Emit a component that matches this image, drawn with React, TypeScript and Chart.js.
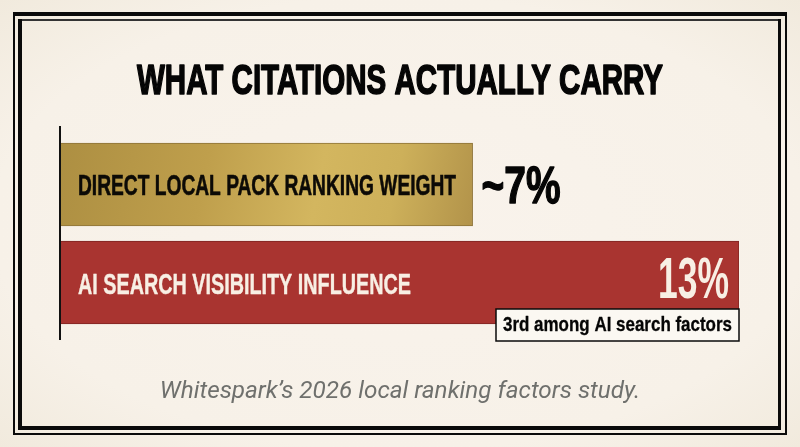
import { useEffect, useRef } from "react"
import { Chart, registerables, type Plugin } from "chart.js"

Chart.register(...registerables)

const categories = ["DIRECT LOCAL PACK RANKING WEIGHT", "AI SEARCH VISIBILITY INFLUENCE"]
// bar lengths as measured on the picture (the first bar is drawn longer than its "~7%" label)
const barLengths = [7.9, 13]
const valueLabels = ["~7%", "13%"]
const chartTitle = "WHAT CITATIONS ACTUALLY CARRY"
const noteText = "3rd among AI search factors"
const sourceText = "Whitespark\u2019s 2026 local ranking factors study."

const CONDENSED = '"Liberation Sans Narrow", "Liberation Sans", sans-serif'

// draws condensed text squeezed to a known width, since Oswald isn't installed
// weight = extra outline so the narrow bold gets closer to Oswald's heavy strokes
function fitText(
  ctx: CanvasRenderingContext2D,
  text: string,
  x: number,
  baseline: number,
  width: number,
  font: string,
  color: string,
  weight = 0
) {
  ctx.save()
  ctx.font = font
  ctx.fillStyle = color
  ctx.strokeStyle = color
  ctx.lineJoin = "round"
  ctx.textAlign = "left"
  ctx.textBaseline = "alphabetic"
  const natural = ctx.measureText(text).width
  ctx.translate(x, baseline)
  ctx.scale(width / natural, 1)
  if (weight > 0) {
    ctx.lineWidth = weight
    ctx.strokeText(text, 0, 0)
  }
  ctx.fillText(text, 0, 0)
  ctx.restore()
}

const slideText: Plugin<"bar"> = {
  id: "slideText",
  afterDatasetsDraw(chart) {
    const { ctx, chartArea } = chart
    const meta = chart.getDatasetMeta(0)
    const y0 = meta.data[0].y
    const y1 = meta.data[1].y
    const end0 = meta.data[0].x
    const end1 = meta.data[1].x

    // axis line runs a bit past the chart area
    ctx.save()
    ctx.strokeStyle = "#111111"
    ctx.lineWidth = 2
    ctx.beginPath()
    ctx.moveTo(chartArea.left, chartArea.top - 9.5)
    ctx.lineTo(chartArea.left, chartArea.bottom + 8.5)
    ctx.stroke()
    ctx.restore()

    fitText(ctx, chartTitle, 137, 94, 526, `bold 43px ${CONDENSED}`, "#050505", 1.6)
    fitText(ctx, categories[0], 78, y0 + 10.5, 378, `bold 30px ${CONDENSED}`, "#0c0a06", 0.6)
    fitText(ctx, categories[1], 78, y1 + 11, 333, `bold 30px ${CONDENSED}`, "#f8efe4", 0.4)
    fitText(ctx, valueLabels[0], end0 + 9, y0 + 18, 79, `bold 52px ${CONDENSED}`, "#050505", 1.4)
    fitText(ctx, valueLabels[1], end1 - 81, y1 + 15.5, 71, `bold 58px ${CONDENSED}`, "#f8efe4")

    // callout box under the red bar's right end
    ctx.save()
    ctx.fillStyle = "#fbf8f2"
    ctx.strokeStyle = "#0a0a0a"
    ctx.lineWidth = 1.5
    ctx.fillRect(496, 309, 243, 32)
    ctx.strokeRect(496, 309, 243, 32)
    ctx.restore()
    fitText(ctx, noteText, 503, 331, 229, `bold 21px ${CONDENSED}`, "#050505", 0.3)

    ctx.save()
    ctx.font = "italic 24.3px Roboto, sans-serif"
    ctx.fillStyle = "#6f706d"
    ctx.textAlign = "center"
    ctx.fillText(sourceText, 400, 398)
    ctx.restore()
  },
}

function goldFill(context: any) {
  const { chart } = context
  const area = chart.chartArea
  if (!area) return "#c9a94f"
  const g = chart.ctx.createLinearGradient(61, 143, 473, 226)
  g.addColorStop(0, "#ad8f42")
  g.addColorStop(0.35, "#bf9f4c")
  g.addColorStop(0.62, "#d3b65f")
  g.addColorStop(0.8, "#cdb05a")
  g.addColorStop(1, "#b2934a")
  return g
}

export default function App() {
  const canvasRef = useRef<HTMLCanvasElement>(null)

  useEffect(() => {
    if (!canvasRef.current) return
    const chart = new Chart(canvasRef.current, {
      type: "bar",
      data: {
        labels: categories,
        datasets: [
          {
            data: barLengths,
            backgroundColor: (c: any) => (c.dataIndex === 0 ? goldFill(c) : "#a93430"),
            borderColor: ["#8d7338", "#7f2522"],
            borderWidth: 1,
            borderSkipped: false,
            barThickness: 83,
          },
        ],
      },
      options: {
        indexAxis: "y",
        animation: false,
        responsive: false,
        layout: { padding: { left: 60, right: 61, top: 135.5, bottom: 115.5 } },
        plugins: {
          legend: { display: false },
          tooltip: { enabled: false },
        },
        scales: {
          x: { display: false, min: 0, max: 13 },
          y: { display: false },
        },
      },
      plugins: [slideText],
    })
    return () => chart.destroy()
  }, [])

  const line = (s: React.CSSProperties) => <div style={{ position: "absolute", background: "#0a0a0a", ...s }} />

  return (
    <div
      style={{
        position: "fixed",
        inset: 0,
        width: 800,
        height: 447,
        overflow: "hidden",
        background: "radial-gradient(ellipse at center, #f9f3ec 0%, #f7f1e8 72%, #f1eadd 100%)",
      }}
    >
      {/* double frame: thick and thin rules swap sides */}
      {line({ left: 13, top: 12, width: 774, height: 3.5 })}
      {line({ left: 18, top: 19, width: 763, height: 2, background: "#333333" })}
      {line({ left: 13, top: 12, width: 1.5, height: 423 })}
      {line({ left: 18, top: 19, width: 3.5, height: 411 })}
      {line({ left: 18, top: 426, width: 763, height: 3.5 })}
      {line({ left: 13, top: 433.3, width: 774, height: 1.5 })}
      {line({ left: 778, top: 19, width: 3, height: 411 })}
      {line({ left: 785, top: 12, width: 1.5, height: 423 })}
      <canvas ref={canvasRef} width={800} height={447} style={{ position: "absolute", left: 0, top: 0 }} />
    </div>
  )
}
